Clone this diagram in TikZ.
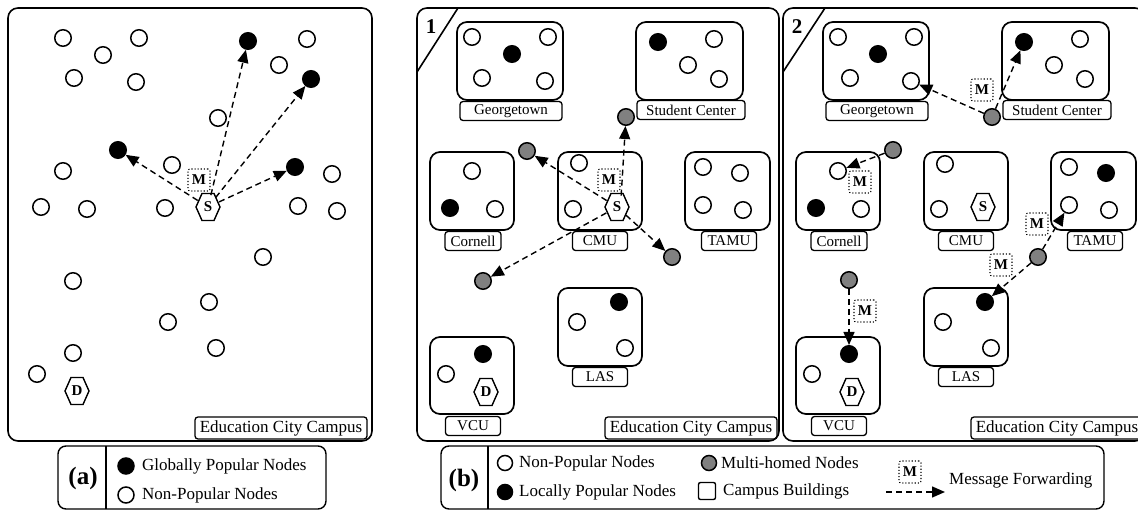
\documentclass[tikz,border=0pt]{standalone}
\usepackage{fontspec}
\setmainfont{Liberation Serif}
\usetikzlibrary{arrows.meta}
\newcommand\fsL{\fontsize{17}{17}\selectfont}
\newcommand\fsB{\fontsize{15}{15}\selectfont}
\newcommand\hexat[1]{\draw[line width=1.4pt, fill=white] (#1) ++(-12,0) -- ++(6,-13.5) -- ++(12,0) -- ++(6,13.5) -- ++(-6,13.5) -- ++(-12,0) -- cycle;}
\tikzset{
 wn/.style={circle, draw, line width=1.5pt, fill=white, minimum size=16.5pt, inner sep=0pt},
 bn/.style={wn, fill=black},
 gn/.style={wn, fill=black!50},
 frame/.style={draw, line width=1.6pt, rounded corners=10pt},
 bld/.style={draw, line width=1.7pt, rounded corners=10pt, inner sep=0pt},
 lbl/.style={draw, line width=1.3pt, rounded corners=3pt, font=\fsB, inner sep=1pt, minimum height=19pt},
 elbl/.style={draw, line width=1.3pt, rounded corners=3pt, font=\fsL, inner sep=2pt, minimum height=22pt, minimum width=172pt},
 msg/.style={draw, dotted, line width=1.1pt, rounded corners=2pt, font=\bfseries\fsB, minimum size=22pt, inner sep=1pt, fill=white},
 fw/.style={line width=1.4pt, dash pattern=on 6pt off 4pt, -{Triangle[length=13pt,width=11pt]}},
 hexn/.style={circle, minimum size=24pt, inner sep=0pt, font=\bfseries\fsB},
 lgtext/.style={anchor=west, font=\fsL, inner sep=0pt},
 pnum/.style={font=\bfseries\fontsize{21}{21}\selectfont, inner sep=0pt},
 lgtag/.style={font=\bfseries\fontsize{25}{25}\selectfont, inner sep=0pt},
}
\newcommand\buildings[2]{%
\begin{scope}[xshift=#2]
 \node[bld, minimum width=106pt, minimum height=78pt] (G#1) at (510,61) {};
 \node[bld, minimum width=107pt, minimum height=78pt] (SC#1) at (689.5,61) {};
 \node[bld, minimum width=84pt, minimum height=78pt] (CO#1) at (472,191) {};
 \node[bld, minimum width=84pt, minimum height=78pt] (CM#1) at (600,191) {};
 \node[bld, minimum width=85pt, minimum height=78pt] (TA#1) at (727.5,191) {};
 \node[bld, minimum width=84pt, minimum height=78pt] (LA#1) at (600,327) {};
 \node[bld, minimum width=84pt, minimum height=77pt] (VC#1) at (472,375.5) {};
 \node[lbl, minimum width=102pt] (GL#1) at (511,111) {Georgetown};
 \node[lbl, minimum width=108pt] (SCL#1) at (691,110) {Student Center};
 \node[lbl, minimum width=56pt] (COL#1) at (473,241) {Cornell};
 \node[lbl, minimum width=55pt] (CML#1) at (600,241) {CMU};
 \node[lbl, minimum width=55pt] (TAL#1) at (729,241) {TAMU};
 \node[lbl, minimum width=55pt] (LAL#1) at (600,377) {LAS};
 \node[lbl, minimum width=55pt] (VCL#1) at (473,426) {VCU};
 \node[elbl] (ED#1) at (691,428) {Education City Campus};
\end{scope}}
\begin{document}
\begin{tikzpicture}[x=1pt,y=-1pt]
\useasboundingbox (0,0) rectangle (1138,510);
\clip (0,0) rectangle (1138,510);
\fill[white] (0,0) rectangle (1138,510);

% ---------- panel (a) ----------
\draw[frame] (8,8) rectangle (372,441);
\node[elbl] (EDa) at (281,428) {Education City Campus};
\foreach \p [count=\i] in {(63,38),(139,38),(103,55),(74,78),(136,82),(307,39),(279,65),(218,118),(63,171),(172,165),(41,207),(87,209),(165,208),(332,174),(298,206),(337,211),(263,257),(73,281),(209,302),(168,322),(216,348),(73,353),(37,374)}
  \node[wn] (wa\i) at \p {};
\node[bn] (ba1) at (248,41) {};
\node[bn] (ba2) at (311,79) {};
\node[bn] (ba3) at (118,150) {};
\node[bn] (ba4) at (295,167) {};
\coordinate (Sac) at (208,207);
\hexat{Sac}
\node[hexn] (Sa) at (Sac) {S};
\coordinate (Dac) at (77,391);
\hexat{Dac}
\node[hexn] (Da) at (Dac) {D};
\draw[fw] (Sa) -- (ba1);
\draw[fw] (Sa) -- (ba2);
\draw[fw] (Sa) -- (ba3);
\draw[fw] (Sa) -- (ba4);
\node[msg] (Ma) at (199,180) {M};

% ---------- panel 1 ----------
\draw[frame] (417,8) rectangle (779,441);
\draw[line width=1.6pt] (417,72) -- (458,8);
\node[pnum] (n1) at (431,27) {1};
\buildings{1}{0pt}
\node[wn] (g1a) at (472,37) {};
\node[wn] (g1b) at (548,37) {};
\node[bn] (g1c) at (512,54) {};
\node[wn] (g1d) at (482,78) {};
\node[wn] (g1e) at (545,81) {};
\node[bn] (s1a) at (658,42) {};
\node[wn] (s1b) at (714,39) {};
\node[wn] (s1c) at (688,65) {};
\node[wn] (s1d) at (719,79) {};
\node[wn] (c1a) at (472,171) {};
\node[bn] (c1b) at (450,208) {};
\node[wn] (c1c) at (495,209) {};
\node[wn] (m1a) at (579,163) {};
\node[wn] (m1b) at (573,209) {};
\node[wn] (t1a) at (703,167) {};
\node[wn] (t1b) at (740,173) {};
\node[wn] (t1c) at (703,205) {};
\node[wn] (t1d) at (743,210) {};
\node[bn] (l1a) at (619,302) {};
\node[wn] (l1b) at (577,322) {};
\node[wn] (l1c) at (625,348) {};
\node[bn] (v1a) at (483,354) {};
\node[wn] (v1b) at (446,374) {};
\coordinate (D1c) at (486,392);
\hexat{D1c}
\node[hexn] (D1) at (D1c) {D};
\node[gn] (h1a) at (626,117) {};
\node[gn] (h1b) at (527,151) {};
\node[gn] (h1c) at (672,257) {};
\node[gn] (h1d) at (483,281) {};
\coordinate (S1c) at (617,207);
\hexat{S1c}
\node[hexn] (S1) at (S1c) {S};
\draw[fw] (S1.70) -- (h1a);
\draw[fw] (S1) -- (h1b);
\draw[fw] (S1) -- (h1c);
\draw[fw] (S1) -- (h1d);
\node[msg] (M1) at (609,180) {M};

% ---------- panel 2 ----------
\draw[frame] (783,8) rectangle (1145,441);
\draw[line width=1.6pt] (783,72) -- (825,8);
\node[pnum] (n2) at (797,27) {2};
\buildings{2}{366pt}
\node[wn] (g2a) at (838,37) {};
\node[wn] (g2b) at (914,37) {};
\node[bn] (g2c) at (878,54) {};
\node[wn] (g2d) at (850,78) {};
\node[wn] (g2e) at (911,81) {};
\node[bn] (s2a) at (1024,42) {};
\node[wn] (s2b) at (1080,39) {};
\node[wn] (s2c) at (1054,65) {};
\node[wn] (s2d) at (1085,79) {};
\node[wn] (c2a) at (838,171) {};
\node[bn] (c2b) at (816,208) {};
\node[wn] (c2c) at (861,209) {};
\node[wn] (m2a) at (945,164) {};
\node[wn] (m2b) at (939,209) {};
\coordinate (S2c) at (983,207);
\hexat{S2c}
\node[hexn] (S2) at (S2c) {S};
\node[wn] (t2a) at (1069,167) {};
\node[bn] (t2b) at (1106,173) {};
\node[wn] (t2c) at (1069,205) {};
\node[wn] (t2d) at (1109,210) {};
\node[bn] (l2a) at (985,302) {};
\node[wn] (l2b) at (943,322) {};
\node[wn] (l2c) at (991,348) {};
\node[bn] (v2a) at (849,354) {};
\node[wn] (v2b) at (812,374) {};
\coordinate (D2c) at (852,392);
\hexat{D2c}
\node[hexn] (D2) at (D2c) {D};
\node[gn] (h2a) at (992,117) {};
\node[gn] (h2b) at (893,150) {};
\node[gn] (h2c) at (1038,257) {};
\node[gn] (h2d) at (849,280) {};
\draw[fw] (h2a) -- (g2e);
\draw[fw] (h2a) -- (s2a);
\draw[fw] (h2b) -- (c2a);
\draw[fw] (h2c) -- (t2c);
\draw[fw] (h2c) -- (l2a);
\draw[fw] (h2d) -- (v2a);
\node[msg] (M2a) at (982,90) {M};
\node[msg] (M2b) at (860,182) {M};
\node[msg] (M2c) at (1037,224) {M};
\node[msg] (M2d) at (1001,265) {M};
\node[msg] (M2e) at (865,311) {M};

% ---------- legend (a) ----------
\draw[line width=1.4pt, rounded corners=8pt] (58,446) rectangle (326,509);
\draw[line width=1.4pt] (106,446) -- (106,509);
\node[lgtag] (tagA) at (83,478) {(a)};
\node[bn, minimum size=16pt] (lga1) at (126,466) {};
\node[wn, minimum size=16pt] (lga2) at (126,495) {};
\node[lgtext] (lta1) at (142,466) {Globally Popular Nodes};
\node[lgtext] (lta2) at (142,495) {Non-Popular Nodes};

% ---------- legend (b) ----------
\draw[line width=1.4pt, rounded corners=8pt] (441,446) rectangle (1104,509);
\draw[line width=1.4pt] (488,446) -- (488,509);
\node[lgtag] (tagB) at (464,480) {(b)};
\node[wn, minimum size=15pt] (lgb1) at (505,463) {};
\node[bn, minimum size=15pt] (lgb2) at (505,492) {};
\node[gn, minimum size=15pt] (lgb3) at (709,463) {};
\node[draw, line width=1.4pt, rounded corners=2pt, minimum width=17pt, minimum height=17pt] (lgb4) at (707,491) {};
\node[lgtext] (ltb1) at (519,463) {Non-Popular Nodes};
\node[lgtext] (ltb2) at (519,492) {Locally Popular Nodes};
\node[lgtext] (ltb3) at (721,463) {Multi-homed Nodes};
\node[lgtext] (ltb4) at (723,491) {Campus Buildings};
\node[msg] (lgM) at (910,472) {M};
\coordinate (lfa) at (886,492);
\coordinate (lfb) at (945,492);
\draw[fw] (lfa) -- (lfb);
\node[lgtext] (ltb5) at (949,480) {Message Forwarding};
\end{tikzpicture}
\end{document}
